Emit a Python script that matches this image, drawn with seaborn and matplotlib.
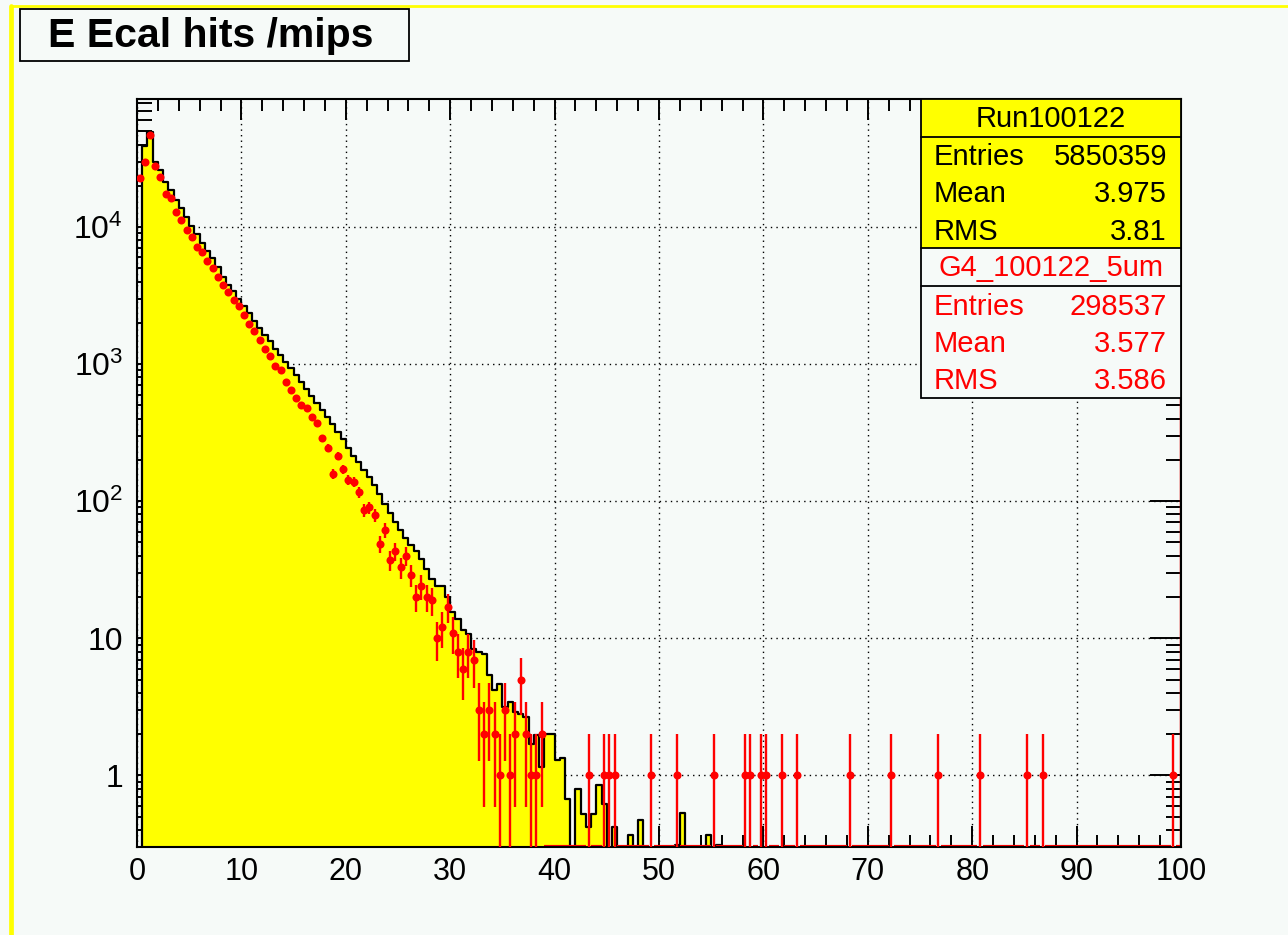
import numpy as np
import pandas as pd
import matplotlib
matplotlib.use("Agg")
import matplotlib.pyplot as plt
from matplotlib.patches import Rectangle
from matplotlib.lines import Line2D
from matplotlib.ticker import FixedLocator, MultipleLocator, FuncFormatter, NullFormatter
import seaborn as sns

# ---------------------------------------------------------------- data
bin_width = 0.5
x_low, x_high = 0.0, 100.0

# Data run (scaled), one value per 0.5-mip bin starting at 0
data_head = [
    0, 39000, 49000, 29800, 26000, 21500, 18500, 15800, 13700, 11800,
    10200, 8900, 7700, 6700, 5900, 5100, 4300, 3800, 3400, 3000,
    2650, 2350, 2080, 1850, 1640, 1470, 1300, 1160, 1040, 930,
    830, 740, 660, 590, 520, 460, 410, 365, 322, 285,
    245, 215, 192, 168, 150, 132, 112, 96, 82, 70,
    62, 54, 48, 43, 38, 32, 27, 24, 24, 20,
    15.6, 13.9, 11.4, 10.8, 8.4, 7.9, 7.7, 5.4, 4.2, 4.6,
    3.15, 3.4, 2.9, 2.8, 2.67, 1.7, 1.96, 1.15, 2.0, 2.0,
    1.29, 1.34, 0.676, 0, 0.8, 0.525, 0.42, 0.525, 0.845, 0.62,
    0, 0.42, 0, 0, 0.365, 0, 0.475, 0, 0, 0,
    0, 0, 0, 0.31, 0.53, 0, 0, 0, 0, 0.37,
    0, 0.31,
]

# Simulation (G4_100122_5um) raw counts per bin
mc_head = [
    22700, 30000, 47000, 28000, 23300, 17400, 16200, 12900, 11200, 9500,
    8500, 7180, 6600, 5680, 5000, 4340, 3780, 3370, 2930, 2650,
    2300, 1950, 1740, 1510, 1280, 1140, 966, 903, 735, 646,
    562, 502, 475, 413, 369, 287, 245, 159, 213, 171,
    144, 138, 117, 86, 90, 79, 49, 62, 37, 43,
    33, 40, 29, 20, 24, 20, 19, 10, 12, 17,
    11, 8, 6, 8, 7, 3, 2, 3, 2, 1,
    3, 1, 2, 5, 2, 1, 1, 2,
]
# bins further out holding a single simulated hit
mc_single_bins = [86, 89, 90, 91, 98, 103, 110, 116, 117, 119, 120, 123,
                  126, 136, 144, 153, 161, 170, 173, 198]

data_title = "Run100122"
data_stats = [("Entries", "5850359"), ("Mean", "3.975"), ("RMS", "3.81")]
mc_title = "G4_100122_5um"
mc_stats = [("Entries", "298537"), ("Mean", "3.577"), ("RMS", "3.586")]
plot_title = "E Ecal hits /mips"

x_major = [0, 10, 20, 30, 40, 50, 60, 70, 80, 90, 100]
y_major = [1, 10, 100, 1000, 10000]
y_limits = (0.3, 86000)

# ---------------------------------------------------------------- arrays
edges = np.arange(x_low, x_high + bin_width / 2, bin_width)
centers = 0.5 * (edges[:-1] + edges[1:])
nbins = len(centers)

data_vals = np.zeros(nbins)
data_vals[:len(data_head)] = data_head
mc_vals = np.zeros(nbins)
mc_vals[:len(mc_head)] = mc_head
mc_vals[mc_single_bins] = 1

hist_df = pd.DataFrame({"E": centers, "w": data_vals})
bin_list = [float(e) for e in edges]

# ---------------------------------------------------------------- style
W, H, DPI = 1288, 935, 100
bg = "#F6FAF8"
sns.set_theme(style="ticks")
plt.rcParams["font.family"] = ["Liberation Sans", "DejaVu Sans"]
plt.rcParams["mathtext.default"] = "regular"
plt.rcParams["text.color"] = "black"
plt.rcParams["xtick.labelcolor"] = "black"
plt.rcParams["ytick.labelcolor"] = "black"

fig = plt.figure(figsize=(W / DPI, H / DPI), dpi=DPI, facecolor=bg)
ax = fig.add_axes([137 / W, 1 - 847 / H, (1181 - 137) / W, (847 - 99) / H])
ax.set_facecolor(bg)
ax.set_axisbelow(True)

# data histogram: yellow fill + black step outline
sns.histplot(data=hist_df, x="E", weights="w", bins=bin_list, element="step",
             fill=True, color="#FFFF00", alpha=1.0, linewidth=0, ax=ax,
             zorder=1)
sns.histplot(data=hist_df, x="E", weights="w", bins=bin_list, element="step",
             fill=False, color="black", linewidth=1.6, ax=ax, zorder=2)
ax.set_yscale("log")

# simulation: empty bins sit on the lower frame edge
for k in np.flatnonzero(mc_vals == 0):
    ax.hlines(y_limits[0], edges[k], edges[k + 1], color="red", lw=3.0,
              zorder=2.4)
ax.axvline(edges[-1], color="red", lw=2.5, zorder=2.4)

nz = mc_vals > 0
ax.errorbar(centers[nz], mc_vals[nz], yerr=np.sqrt(mc_vals[nz]),
            xerr=bin_width / 2, fmt="o", color="red", ms=5.8, mew=0,
            elinewidth=1.7, capsize=0, zorder=3)

ax.set_xlim(x_low, x_high)
ax.set_ylim(*y_limits)
ax.set_xlabel("")
ax.set_ylabel("")

ax.xaxis.set_major_locator(FixedLocator(x_major))
ax.xaxis.set_minor_locator(MultipleLocator(2))
ax.yaxis.set_major_locator(FixedLocator(y_major))
minor_y = [m * 10.0 ** e for e in range(-1, 5) for m in range(2, 10)]
ax.yaxis.set_minor_locator(FixedLocator(minor_y))
ax.yaxis.set_minor_formatter(NullFormatter())


def ylab(v, _):
    if v < 5:
        return "1"
    if v < 50:
        return "10"
    return r"$10^{%d}$" % int(round(np.log10(v)))


ax.yaxis.set_major_formatter(FuncFormatter(ylab))

ax.grid(True, which="major", color="black", linestyle=(0, (1.0, 3.0)),
        linewidth=1.0)
ax.tick_params(which="both", direction="in", top=True, right=True,
               color="black", width=1.4, labelcolor="black")
ax.tick_params(axis="x", which="major", length=15, labelsize=22, pad=7)
ax.tick_params(axis="x", which="minor", length=8.5)
ax.tick_params(axis="y", which="major", length=22, labelsize=23, pad=10)
ax.tick_params(axis="y", which="minor", length=11)
for s in ax.spines.values():
    s.set_visible(True)
    s.set_color("black")
    s.set_linewidth(1.5)
    s.set_zorder(2.5)

# ---------------------------------------------------------------- overlay boxes
ov = fig.add_axes([0, 0, 1, 1], zorder=10)
ov.set_xlim(0, W)
ov.set_ylim(H, 0)
ov.axis("off")
ov.patch.set_alpha(0)

# highlighted pad frame
ov.add_line(Line2D([11.5, 11.5], [6, H], color="#FFFF00", lw=3.4))
ov.add_line(Line2D([11.5, W], [6, 6], color="#FFFF00", lw=2.0))

# title box
ov.add_patch(Rectangle((20, 9), 389, 52, facecolor=bg, edgecolor="black",
                       lw=1.3))
ov.text(48, 36, plot_title, fontsize=29.5, fontweight="bold", ha="left",
        va="center", color="black")

# statistics box
bx0, bx1 = 921, 1181
y_top, y_t1, y_yel, y_t2, y_bot = 99, 137, 248, 286, 398
ov.add_patch(Rectangle((bx0, y_top), bx1 - bx0, y_yel - y_top,
                       facecolor="#FFFF00", edgecolor="none"))
ov.add_patch(Rectangle((bx0, y_yel), bx1 - bx0, y_bot - y_yel,
                       facecolor=bg, edgecolor="none"))
ov.add_patch(Rectangle((bx0, y_top), bx1 - bx0, y_bot - y_top,
                       facecolor="none", edgecolor="black", lw=1.3))
for yy in (y_t1, y_yel, y_t2):
    ov.add_line(Line2D([bx0, bx1], [yy, yy], color="black", lw=1.3))

fs = 21
ov.text((bx0 + bx1) / 2, (y_top + y_t1) / 2 + 1, data_title, fontsize=fs,
        ha="center", va="center", color="black")
for i, (k, v) in enumerate(data_stats):
    yy = 157 + i * 37.5
    ov.text(934, yy, k, fontsize=fs, ha="left", va="center", color="black")
    ov.text(1167, yy, v, fontsize=fs, ha="right", va="center", color="black")
ov.text((bx0 + bx1) / 2, (y_yel + y_t2) / 2 + 1, mc_title, fontsize=fs,
        ha="center", va="center", color="red")
for i, (k, v) in enumerate(mc_stats):
    yy = 307 + i * 37
    ov.text(934, yy, k, fontsize=fs, ha="left", va="center", color="red")
    ov.text(1167, yy, v, fontsize=fs, ha="right", va="center", color="red")

fig.savefig("out.png", dpi=DPI, facecolor=bg)
